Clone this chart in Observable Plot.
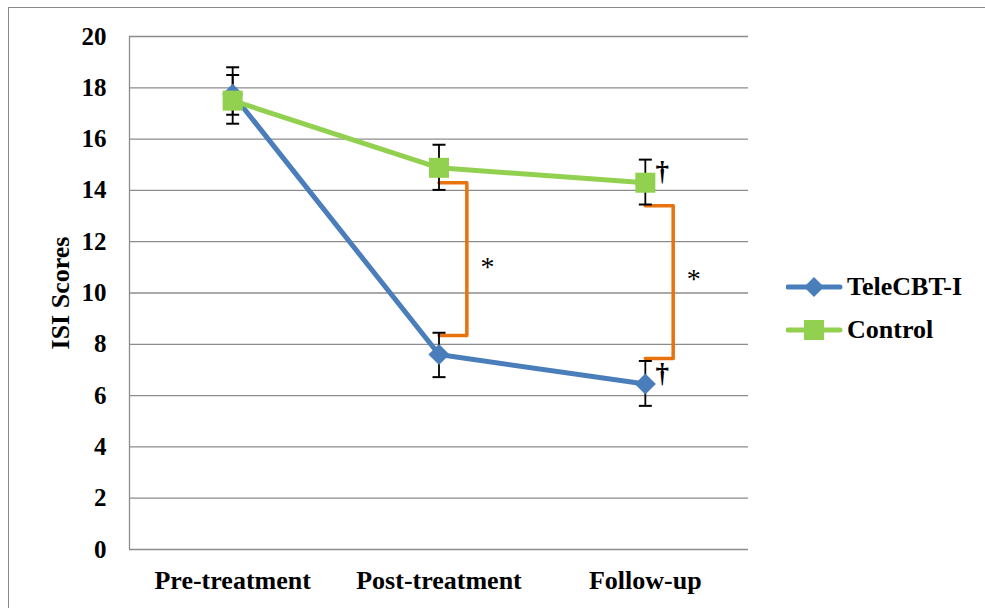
<!DOCTYPE html>
<html><head><meta charset="utf-8">
<script src="https://cdn.jsdelivr.net/npm/d3@7"></script>
<script src="https://cdn.jsdelivr.net/npm/@observablehq/plot@0.6"></script>
<style>
html,body{margin:0;padding:0;background:#fff;overflow:hidden;width:985px;height:608px;}
#wrap{position:relative;width:985px;height:608px;}
#frame{position:absolute;left:8px;top:7px;width:1200px;height:800px;border-left:1.5px solid #8a8a8a;border-top:1.5px solid #8a8a8a;}
#legend{position:absolute;left:786px;top:265px;font-family:"Liberation Serif","Times New Roman",serif;font-weight:bold;font-size:26px;color:#000;}
.item{display:flex;align-items:center;height:43px;}
.item svg{margin-right:3px;}
</style></head>
<body><div id="wrap"><div id="frame"></div><div id="chart" style="position:absolute;left:0;top:0"></div><div id="legend"></div></div>
<script>
const categories = ["Pre-treatment", "Post-treatment", "Follow-up"];
const seriesNames = ["TeleCBT-I", "Control"];
const teleMean = [17.75, 7.6, 6.45];
const teleLow  = [16.6, 6.72, 5.6];
const teleHigh = [18.8, 8.45, 7.35];
const ctrlMean = [17.5, 14.88, 14.3];
const ctrlLow  = [16.95, 14.02, 13.45];
const ctrlHigh = [18.5, 15.78, 15.2];
const yTicks = [0, 2, 4, 6, 8, 10, 12, 14, 16, 18, 20];
// significance brackets (post-treatment, follow-up)
const bracketCat = [1, 2];
const bracketTop = [14.3, 13.4];
const bracketBottom = [8.34, 7.45];
const starY = [11.2, 10.75];
const daggerY = [14.75, 6.85];

const blue = "#4A7EBB", green = "#92D050", orange = "#E8720C";
const bw = 0.135;

const tele = categories.map((c, i) => ({i, mean: teleMean[i], lo: teleLow[i], hi: teleHigh[i]}));
const ctrl = categories.map((c, i) => ({i, mean: ctrlMean[i], lo: ctrlLow[i], hi: ctrlHigh[i]}));
const errs = [...tele, ...ctrl];
const caps = errs.flatMap(d => [{i: d.i, y: d.lo}, {i: d.i, y: d.hi}]);
const brackets = bracketCat.map((c, k) => [
  {x: c, y: bracketTop[k], k}, {x: c + bw, y: bracketTop[k], k},
  {x: c + bw, y: bracketBottom[k], k}, {x: c, y: bracketBottom[k], k}
]).flat();
const stars = bracketCat.map((c, k) => ({x: c + bw + 0.1, y: starY[k]}));
const daggers = daggerY.map(y => ({x: 2, y}));

const capSymbol = {draw(ctx) { ctx.moveTo(-6.5, 0); ctx.lineTo(6.5, 0); }};

const chart = Plot.plot({
  width: 985, height: 608,
  marginLeft: 129, marginRight: 237, marginTop: 36, marginBottom: 59,
  style: {fontFamily: "'Liberation Serif','Times New Roman',serif", background: "transparent", overflow: "visible"},
  x: {domain: [-0.5, 2.5], axis: null},
  y: {domain: [0, 20], axis: null},
  marks: [
    Plot.ruleY(yTicks.filter(t => t > 0), {stroke: "#8c8c8c", strokeWidth: 1.3}),
    Plot.ruleY([0], {stroke: "#8c8c8c", strokeWidth: 1.3}),
    Plot.ruleX([-0.5], {y1: 0, y2: 20, stroke: "#8c8c8c", strokeWidth: 1.3}),
    Plot.line(brackets, {x: "x", y: "y", z: "k", stroke: orange, strokeWidth: 3.5, strokeLinejoin: "round", curve: "linear"}),
    Plot.ruleX(errs, {x: "i", y1: "lo", y2: "hi", stroke: "#000", strokeWidth: 1.8}),
    Plot.dot(caps, {x: "i", y: "y", symbol: capSymbol, r: 6, stroke: "#000", fill: "none", strokeWidth: 2}),
    Plot.line(tele, {x: "i", y: "mean", stroke: blue, strokeWidth: 5, strokeLinejoin: "round"}),
    Plot.dot(tele, {x: "i", y: "mean", symbol: "diamond2", r: 9.5, fill: blue, stroke: "none"}),
    Plot.line(ctrl, {x: "i", y: "mean", stroke: green, strokeWidth: 5, strokeLinejoin: "round"}),
    Plot.dot(ctrl, {x: "i", y: "mean", symbol: "square", r: 11.3, fill: green, stroke: "none"}),
    Plot.text(stars, {x: "x", y: "y", text: () => "*", fontSize: 28, fill: "#000", dy: 5}),
    Plot.text(daggers, {x: "x", y: "y", text: () => "†", fontSize: 27, fontWeight: "bold", fill: "#000", dx: 17}),
    Plot.text(yTicks, {x: -0.5, y: d => d, text: d => String(d), textAnchor: "end", dx: -23, fontSize: 25, fontWeight: "bold", fill: "#000"}),
    Plot.text(categories, {x: (d, i) => i, y: 0, text: d => d, dy: 31, fontSize: 26, fontWeight: "bold", fill: "#000"}),
    Plot.text(["ISI Scores"], {x: -0.5, y: 10, dx: -69, rotate: -90, text: d => d, fontSize: 26, fontWeight: "bold", fill: "#000"})
  ]
});
document.getElementById("chart").appendChild(chart);

const legend = document.getElementById("legend");
const colors = [blue, green];
seriesNames.forEach((name, k) => {
  const item = document.createElement("div");
  item.className = "item";
  const marker = k === 0
    ? `<path d="M28,-10L38,0L28,10L18,0Z" fill="${blue}"/>`
    : `<rect x="18" y="-10" width="20" height="20" fill="${green}"/>`;
  item.innerHTML = `<svg width="58" height="24" viewBox="0 -12 58 24"><line x1="2" y1="0" x2="54" y2="0" stroke="${colors[k]}" stroke-width="5" stroke-linecap="round"/>${marker}</svg><span>${name}</span>`;
  legend.appendChild(item);
});
</script></body></html>
